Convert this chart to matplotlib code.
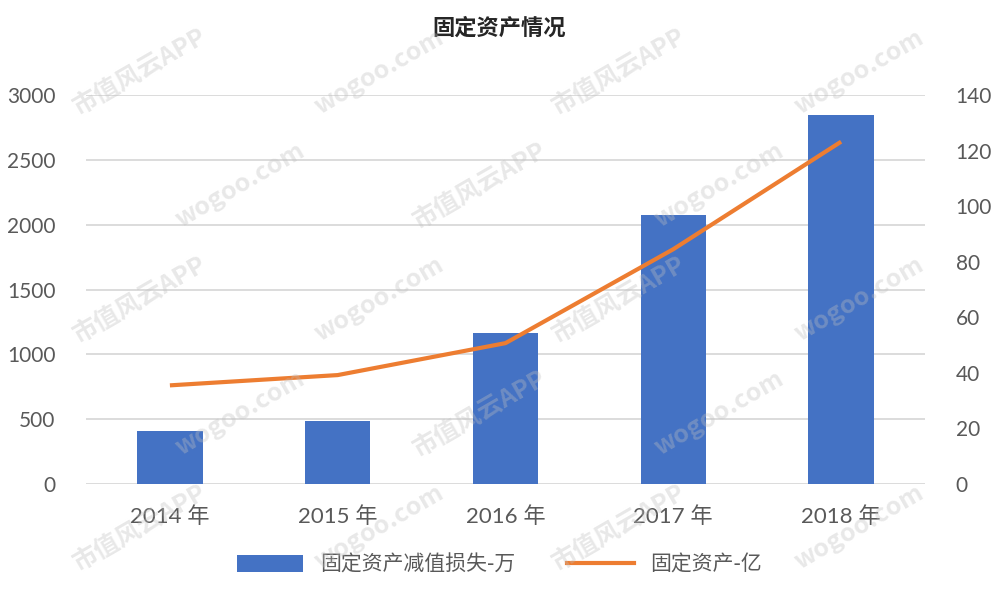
import matplotlib
matplotlib.use("Agg")
import matplotlib.pyplot as plt
from matplotlib.patches import Patch
from matplotlib.lines import Line2D

plt.rcParams['font.family'] = ['Noto Sans CJK SC', 'DejaVu Sans']

years = ['2014 年', '2015 年', '2016 年', '2017 年', '2018 年']
impairment = [409, 488, 1164, 2075, 2845]      # 固定资产减值损失-万
fixed_assets = [35.5, 39.2, 50.7, 84.5, 123.2]  # 固定资产-亿

left_ticks = [0, 500, 1000, 1500, 2000, 2500, 3000]
right_ticks = [0, 20, 40, 60, 80, 100, 120, 140]

BLUE = '#4472C4'
ORANGE = '#ED7D31'
GRID = '#D9D9D9'
TXT = '#595959'

fig = plt.figure(figsize=(9.99, 5.99), dpi=100)
ax = fig.add_axes([86 / 999, 1 - 484 / 599, (925 - 86) / 999, (484 - 95) / 599])

ax.set_facecolor('none')
xs = range(len(years))
ax.bar(xs, impairment, width=0.39, color=BLUE, zorder=3)
ax.set_xlim(-0.5, len(years) - 0.5)
ax.set_ylim(0, 3000)
ax.set_yticks(left_ticks)
ax.set_xticks(list(xs))
ax.set_xticklabels(years)
ax.grid(axis='y', color=GRID, lw=1.3, zorder=1)
for s in ax.spines.values():
    s.set_visible(False)
ax.tick_params(axis='both', length=0, labelsize=15, colors=TXT)
ax.tick_params(axis='y', pad=22)
ax.tick_params(axis='x', pad=16)
for lab in ax.get_yticklabels():
    lab.set_family(['Lato', 'DejaVu Sans'])
for lab in ax.get_xticklabels():
    lab.set_family(['Lato', 'Noto Sans CJK SC'])
    lab.set_fontsize(16)

ax2 = ax.twinx()
ax2.plot(list(xs), fixed_assets, color=ORANGE, lw=3, zorder=4, solid_capstyle='butt')
ax2.set_ylim(0, 140)
ax2.set_yticks(right_ticks)
for s in ax2.spines.values():
    s.set_visible(False)
ax2.tick_params(axis='y', length=0, labelsize=15, colors=TXT, pad=22)
for lab in ax2.get_yticklabels():
    lab.set_family(['Lato', 'DejaVu Sans'])

fig.text(0.5, 1 - 28 / 599, '固定资产情况', ha='center', va='center',
         fontsize=16, color='#262626', fontweight='bold')

handles = [Patch(facecolor=BLUE, edgecolor='none'),
           Line2D([0], [0], color=ORANGE, lw=3)]
fig.legend(handles, ['固定资产减值损失-万', '固定资产-亿'], loc='center',
           bbox_to_anchor=(0.5, 1 - 565 / 599), ncol=2, frameon=False,
           fontsize=15, handlelength=3.2, handleheight=0.9, columnspacing=2.5,
           labelcolor=TXT)

# light diagonal watermarks, kept inside the figure
for row in range(5):
    for col in range(4):
        x = 0.14 + col * 0.24 + (row % 2) * 0.10
        y = 0.12 + row * 0.19
        if x > 0.9:
            continue
        word = '市值风云APP' if (row + col) % 2 == 0 else 'wogoo.com'
        fig.text(x, y, word, fontsize=18, color='#BFBFBF', alpha=0.35,
                 rotation=30, ha='center', va='center', zorder=10,
                 fontweight='bold')

fig.savefig('out.png', dpi=100)
